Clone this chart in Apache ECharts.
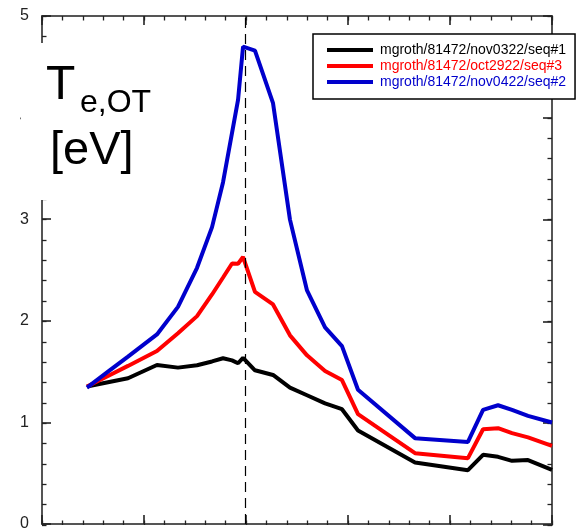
<!DOCTYPE html>
<html>
<head>
<meta charset="utf-8">
<script src="https://cdn.jsdelivr.net/npm/echarts@6/dist/echarts.min.js"></script>
<style>
html,body{margin:0;padding:0;background:#fff;}
#chart{width:578px;height:532px;}
</style>
</head>
<body>
<div id="chart"></div>
<script>
var xs = [0.441,0.647,0.843,1.127,1.333,1.520,1.667,1.775,1.863,1.922,1.971,2.088,2.265,2.431,2.598,2.775,2.941,3.098,3.657,4.176,4.324,4.471,4.608,4.765,5.0];
var seq1 = [1.353,1.395,1.434,1.565,1.539,1.562,1.600,1.631,1.610,1.582,1.636,1.513,1.467,1.342,1.267,1.187,1.130,0.920,0.606,0.530,0.681,0.661,0.622,0.629,0.533];
var seq3 = [1.353,1.457,1.556,1.702,1.878,2.046,2.259,2.426,2.564,2.561,2.628,2.284,2.161,1.857,1.660,1.506,1.417,1.081,0.697,0.648,0.933,0.943,0.894,0.852,0.769];
var seq2 = [1.343,1.499,1.647,1.866,2.137,2.522,2.922,3.364,3.850,4.175,4.698,4.659,4.142,2.996,2.299,1.935,1.751,1.321,0.845,0.808,1.123,1.169,1.123,1.064,0.999];
var seriesNames = ['mgroth/81472/nov0322/seq#1','mgroth/81472/oct2922/seq#3','mgroth/81472/nov0422/seq#2'];
var seriesColors = ['#000000','#ff0000','#0000cc'];
var dashedX = 1.985;
var axisMin = 0, axisMax = 5, majorStep = 1, minorStep = 0.2;

function pairs(ys){ return xs.map(function(x,i){ return [x, ys[i]]; }); }

var chart = echarts.init(document.getElementById('chart'), null, {renderer:'canvas'});
var FONT = 'Liberation Sans, Arial, Helvetica, sans-serif';
var axisLine = {show:true, onZero:false, lineStyle:{color:'#555', width:2}};
var tick = {show:true, inside:true, length:9, lineStyle:{color:'#222', width:1.6}};
var mtick = {show:true, inside:true, length:4.5, lineStyle:{color:'#222', width:1.3}};
var gridRect = {left:42, top:16, right:26, bottom:7, containLabel:false};

function majorAxis(pos, grid, labels){
  return {type:'value', gridIndex:grid, position:pos, min:axisMin, max:axisMax, interval:majorStep,
    axisLine:axisLine, axisTick:tick, splitLine:{show:false},
    axisLabel: labels ? {show:true, margin:13, fontSize:16, fontFamily:FONT, color:'#222'} : {show:false}};
}
function minorAxis(pos, grid){
  return {type:'value', gridIndex:grid, position:pos, min:axisMin, max:axisMax, interval:minorStep,
    axisLine:{show:false, onZero:false}, axisTick:mtick, splitLine:{show:false}, axisLabel:{show:false}};
}

chart.setOption({
  animation:false,
  backgroundColor:'#ffffff',
  grid:[gridRect, gridRect, gridRect, gridRect],
  xAxis:[
    majorAxis('bottom',0,false), majorAxis('top',1,false),
    minorAxis('bottom',2), minorAxis('top',3)
  ],
  yAxis:[
    majorAxis('left',0,true), majorAxis('right',1,false),
    minorAxis('left',2), minorAxis('right',3)
  ],
  legend:{
    orient:'vertical', left:313, top:34,
    padding:[8,9,9,14],
    backgroundColor:'#ffffff', borderColor:'#000', borderWidth:1.5,
    itemWidth:46, itemHeight:4, itemGap:0, icon:'rect',
    textStyle:{fontFamily:FONT, fontSize:14, lineHeight:16, padding:[0,0,0,2]},
    data: seriesNames.map(function(n,i){ return {name:n, textStyle:{color:seriesColors[i]}}; }),
    z:10
  },
  series:[
    {name:seriesNames[0], type:'line', xAxisIndex:0, yAxisIndex:0, data:pairs(seq1), symbol:'none', color:seriesColors[0], lineStyle:{width:4, color:seriesColors[0]}, z:3,
     markLine:{silent:true, symbol:'none', label:{show:false}, lineStyle:{color:'#000', width:1.2, type:[10,6]}, data:[{xAxis:dashedX}], animation:false}},
    {name:seriesNames[1], type:'line', xAxisIndex:0, yAxisIndex:0, data:pairs(seq3), symbol:'none', color:seriesColors[1], lineStyle:{width:4, color:seriesColors[1]}, z:4},
    {name:seriesNames[2], type:'line', xAxisIndex:0, yAxisIndex:0, data:pairs(seq2), symbol:'none', color:seriesColors[2], lineStyle:{width:4, color:seriesColors[2]}, z:5}
  ],
  graphic:[
    {type:'rect', left:21, top:43, shape:{width:129, height:157}, style:{fill:'#ffffff'}, z:100},
    {type:'text', left:46, top:62, z:101, style:{text:'T', font:'48px ' + FONT, fill:'#000'}},
    {type:'text', left:80, top:87, z:101, style:{text:'e,OT', font:'32px ' + FONT, fill:'#000'}},
    {type:'text', left:50, top:128, z:101, style:{text:'[eV]', font:'47px ' + FONT, fill:'#000'}}
  ]
});
</script>
</body>
</html>
